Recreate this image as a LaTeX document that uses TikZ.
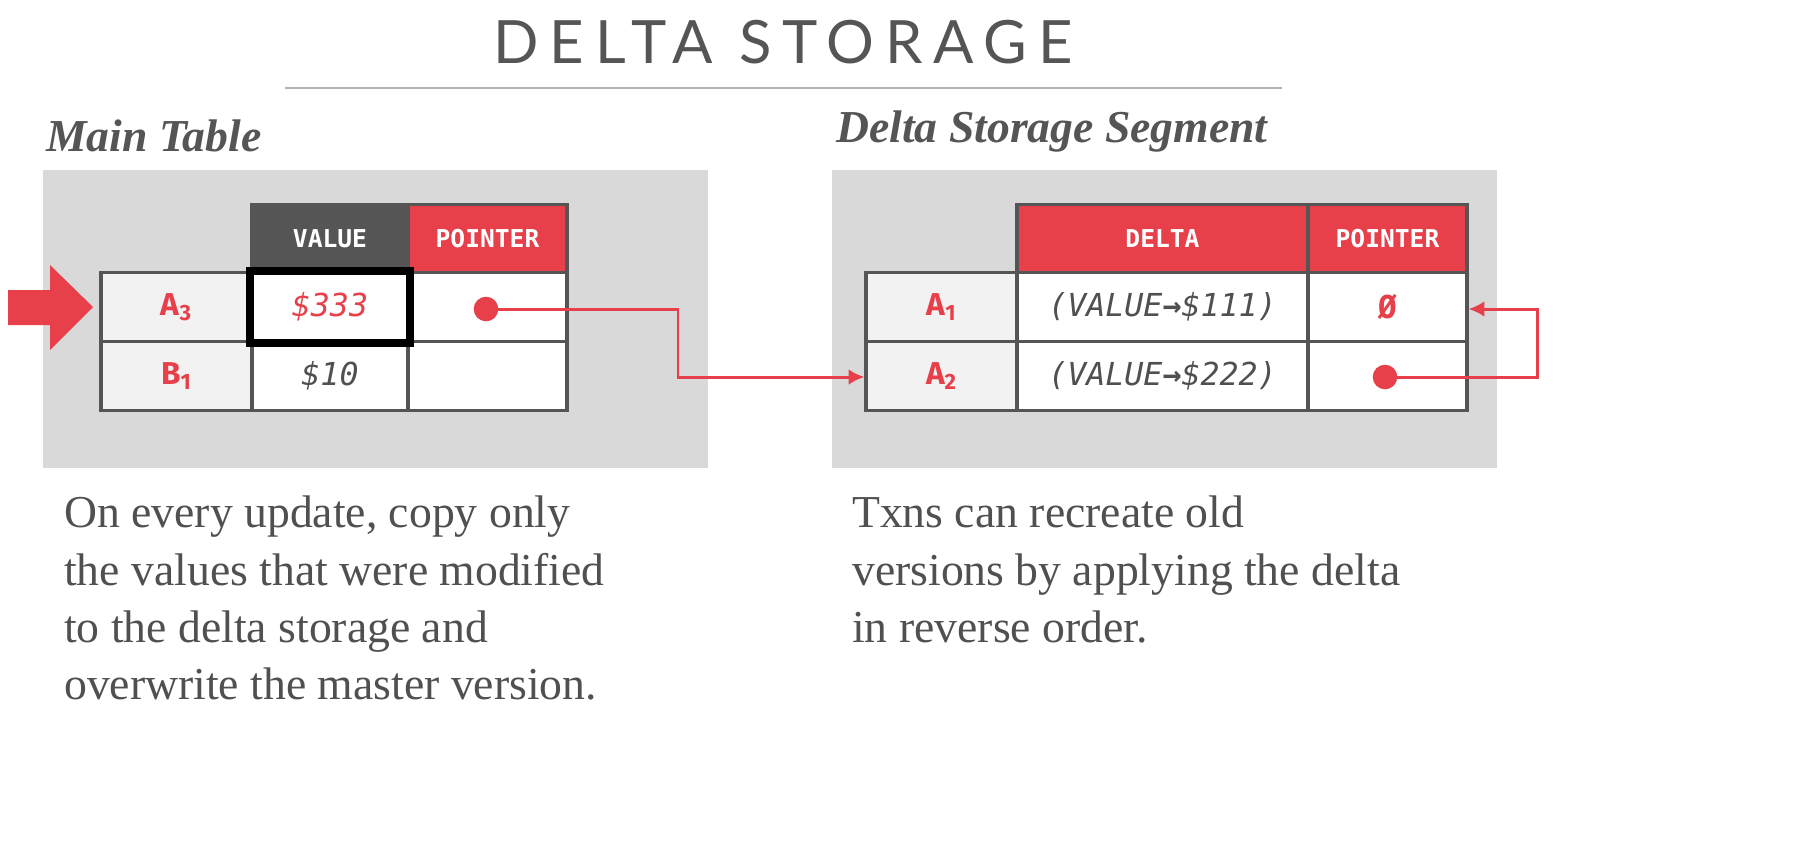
\documentclass[tikz,border=0pt]{standalone}
\usepackage{fontspec}
\setmainfont{Liberation Serif}
\newfontfamily\titlefont[LetterSpace=18]{Lato}
\newfontfamily\cellfont{DejaVu Sans Mono}
\newfontfamily\keyfont{Fira Sans}
\usetikzlibrary{positioning,arrows.meta}
\definecolor{dbred}{HTML}{E8404A}
\definecolor{dbgray}{HTML}{D9D9D9}
\definecolor{dbdark}{HTML}{555555}
\definecolor{dbtext}{HTML}{505050}
\tikzset{
  cell/.style={draw=dbdark, line width=1.8pt, fill=white, inner sep=0pt, minimum height=69*0.02cm},
  wd/.style={minimum width=#1*0.02cm},
  head/.style={cell, fill=dbred, text=white, font=\cellfont\bfseries\fontsize{14}{16}\selectfont},
  key/.style={cell, fill=gray!10, text=dbred, font=\keyfont\bfseries\fontsize{18}{20}\selectfont},
  val/.style={cell, text=dbtext, font=\cellfont\itshape\fontsize{18}{20}\selectfont},
  dot/.style={circle, fill=dbred, inner sep=0pt, minimum size=14pt},
  link/.style={dbred, line width=1.7pt, -{Latex[length=9pt,width=9pt]}},
  body/.style={anchor=north west, align=left, text=dbtext, font=\fontsize{26}{32.5}\selectfont},
  caption/.style={anchor=south west, text=dbdark, font=\bfseries\itshape\fontsize{26}{30}\selectfont}
}
\begin{document}
\begin{tikzpicture}[x=0.02cm, y=-0.02cm]
  \useasboundingbox[fill=white] (0,0) rectangle (1810,846);
  % title
  \node[text=dbdark, font=\titlefont\fontsize{34}{40}\selectfont] (title) at (783,42) {DELTA STORAGE};
  \draw[gray!60, line width=1.5pt] (285,88) -- (1282,88);
  % main table
  \node[caption] (cmain) at (40,158) {Main Table};
  \fill[dbgray] (43,170) rectangle (708,468);
  \node[head, fill=dbdark, wd=156] (hval) at (330,239) {VALUE};
  \node[head, wd=159] (hptr) at (487.5,239) {POINTER};
  \node[key, wd=151] (ka3) at (176.5,307) {A\textsubscript{3}};
  \node[val, text=dbred, wd=156] (va3) at (330,307) {\$333};
  \node[val, wd=159] (pa3) at (487.5,307) {};
  \node[key, wd=151] (kb1) at (176.5,376) {B\textsubscript{1}};
  \node[val, wd=156] (vb1) at (330,376) {\$10};
  \node[val, wd=159] (pb1) at (487.5,376) {};
  \draw[black, line width=4.5pt] (va3.north west) rectangle (va3.south east);
  \fill[dbred] (8,290) -- (50,290) -- (50,265) -- (93,307) -- (50,350) -- (50,325) -- (8,325) -- cycle;
  % delta storage
  \node[caption] (cdelta) at (830,158) {Delta Storage Segment};
  \fill[dbgray] (832,170) rectangle (1497,468);
  \node[head, wd=291] (hdelta) at (1162.5,239) {DELTA};
  \node[head, wd=159] (hdptr) at (1387.5,239) {POINTER};
  \node[key, wd=151] (ka1) at (941.5,307) {A\textsubscript{1}};
  \node[val, wd=291] (da1) at (1162.5,307) {(VALUE{\bfseries →}\$111)};
  \node[val, text=dbred, font=\cellfont\bfseries\fontsize{18}{20}\selectfont, wd=159] (pa1) at (1387.5,307) {Ø};
  \node[key, wd=151] (ka2) at (941.5,376) {A\textsubscript{2}};
  \node[val, wd=291] (da2) at (1162.5,376) {(VALUE{\bfseries →}\$222)};
  \node[val, wd=159] (pa2) at (1387.5,376) {};
  % pointers
  \node[dot] (d1) at (486,309) {};
  \node[dot] (d2) at (1385,377) {};
  \coordinate (c1) at (678,309);
  \coordinate (c2) at (678,377);
  \coordinate (c3) at (1537,377);
  \coordinate (c4) at (1537,309);
  \draw[link] (d1.center) -- (c1) -- (c2) -- (ka2.west |- c2);
  \draw[link] (d2.center) -- (c3) -- (c4) -- (pa1.east |- c4);
  % text
  \node[body] (tmain) at (58,490) {On every update, copy only\\the values that were modified\\to the delta storage and\\overwrite the master version.};
  \node[body] (tdelta) at (846,490) {Txns can recreate old\\versions by applying the delta\\in reverse order.};
\end{tikzpicture}
\end{document}
